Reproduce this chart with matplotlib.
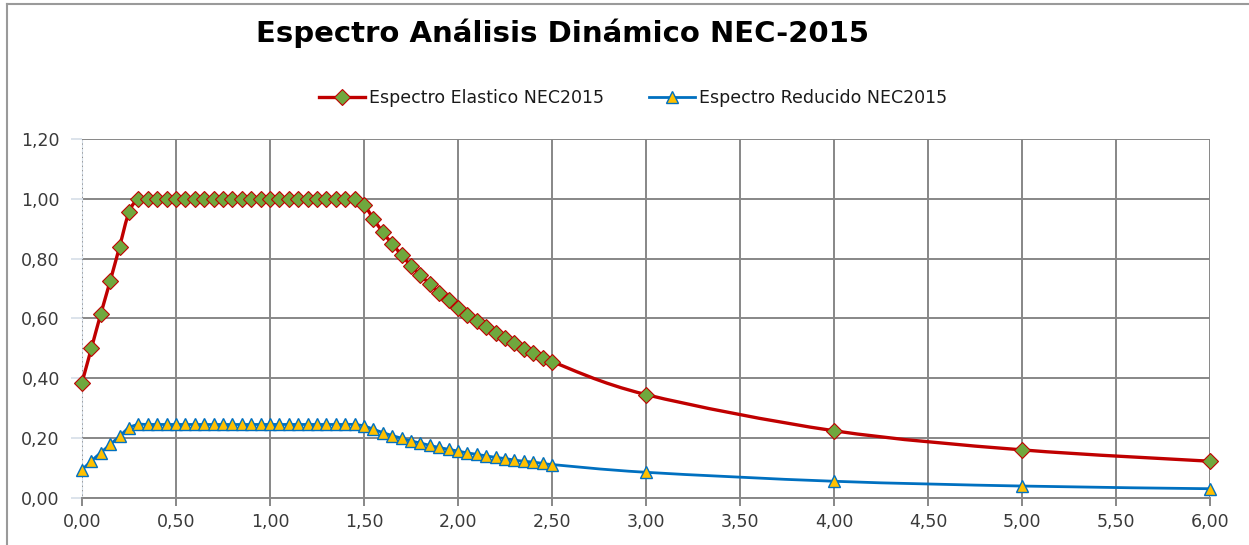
import matplotlib.pyplot as plt
from matplotlib.path import Path
from matplotlib.patches import PathPatch
from matplotlib.lines import Line2D
from matplotlib.ticker import FuncFormatter, MultipleLocator

# periodo T (s)
periodo = [0.00, 0.05, 0.10, 0.15, 0.20, 0.25, 0.30, 0.35, 0.40, 0.45,
           0.50, 0.55, 0.60, 0.65, 0.70, 0.75, 0.80, 0.85, 0.90, 0.95,
           1.00, 1.05, 1.10, 1.15, 1.20, 1.25, 1.30, 1.35, 1.40, 1.45,
           1.50, 1.55, 1.60, 1.65, 1.70, 1.75, 1.80, 1.85, 1.90, 1.95,
           2.00, 2.05, 2.10, 2.15, 2.20, 2.25, 2.30, 2.35, 2.40, 2.45,
           2.50, 3.00, 4.00, 5.00, 6.00]

sa_elastico = [0.385, 0.500, 0.615, 0.725, 0.840, 0.955, 1.000, 1.000, 1.000, 1.000,
               1.000, 1.000, 1.000, 1.000, 1.000, 1.000, 1.000, 1.000, 1.000, 1.000,
               1.000, 1.000, 1.000, 1.000, 1.000, 1.000, 1.000, 1.000, 1.000, 1.000,
               0.980, 0.933, 0.888, 0.849, 0.812, 0.776, 0.745, 0.715, 0.686, 0.661,
               0.635, 0.612, 0.590, 0.570, 0.550, 0.533, 0.516, 0.499, 0.484, 0.469,
               0.455, 0.345, 0.224, 0.160, 0.122]

sa_reducido = [0.094, 0.123, 0.151, 0.178, 0.206, 0.234, 0.245, 0.245, 0.245, 0.245,
               0.245, 0.245, 0.245, 0.245, 0.245, 0.245, 0.245, 0.245, 0.245, 0.245,
               0.245, 0.245, 0.245, 0.245, 0.245, 0.245, 0.245, 0.245, 0.245, 0.245,
               0.240, 0.229, 0.218, 0.208, 0.199, 0.190, 0.183, 0.175, 0.168, 0.162,
               0.156, 0.150, 0.145, 0.140, 0.135, 0.131, 0.126, 0.122, 0.119, 0.115,
               0.111, 0.085, 0.055, 0.039, 0.030]

titulo = 'Espectro Análisis Dinámico NEC-2015'
nombres = ['Espectro Elastico NEC2015', 'Espectro Reducido NEC2015']

ROJO = '#C00000'
VERDE = '#6FA83E'
AZUL = '#0070C0'
AMARILLO = '#FFC000'
GRIS = '#878787'


def curva_suave(x, y):
    # suavizado tipo Excel (bezier a partir de los puntos)
    verts = [(x[0], y[0])]
    codes = [Path.MOVETO]
    n = len(x)
    for i in range(n - 1):
        x0, y0 = (x[i - 1], y[i - 1]) if i > 0 else (x[i], y[i])
        x3, y3 = (x[i + 2], y[i + 2]) if i + 2 < n else (x[i + 1], y[i + 1])
        c1 = (x[i] + (x[i + 1] - x0) / 6, y[i] + (y[i + 1] - y0) / 6)
        c2 = (x[i + 1] - (x3 - x[i]) / 6, y[i + 1] - (y3 - y[i]) / 6)
        verts += [c1, c2, (x[i + 1], y[i + 1])]
        codes += [Path.CURVE4] * 3
    return Path(verts, codes)


fig = plt.figure(figsize=(12.49, 5.45), dpi=100)
ax = fig.add_axes([82 / 1249, 47.3 / 545, (1210 - 82) / 1249, (497.7 - 139) / 545])

ax.set_xlim(0, 6)
ax.set_ylim(0, 1.2)
ax.xaxis.set_major_locator(MultipleLocator(0.5))
ax.yaxis.set_major_locator(MultipleLocator(0.2))
fmt = FuncFormatter(lambda v, p: f'{v:.2f}'.replace('.', ','))
ax.xaxis.set_major_formatter(fmt)
ax.yaxis.set_major_formatter(fmt)
ax.grid(True, color=GRIS, linewidth=1.4)
ax.set_axisbelow(True)

for s in ['top', 'right']:
    ax.spines[s].set_visible(False)
ax.spines['bottom'].set_color(GRIS)
ax.spines['bottom'].set_linewidth(1.4)
ax.spines['left'].set_color('#D5DEE8')
ax.spines['left'].set_linestyle((0, (2, 2)))

ax.tick_params(axis='x', colors=GRIS, length=6, width=1.4, labelcolor='#3a3a3a',
               labelsize=12.5, pad=5)
ax.tick_params(axis='y', colors='#D5DEE8', length=8, width=1.2, labelcolor='#3a3a3a',
               labelsize=12.5, pad=8)

ax.add_patch(PathPatch(curva_suave(periodo, sa_elastico), fill=False,
                       edgecolor=ROJO, linewidth=2.4, zorder=3))
ax.add_patch(PathPatch(curva_suave(periodo, sa_reducido), fill=False,
                       edgecolor=AZUL, linewidth=2.0, zorder=3))
ax.plot(periodo, sa_elastico, linestyle='none', marker='D', markersize=7.8,
        markerfacecolor=VERDE, markeredgecolor=ROJO, markeredgewidth=0.8,
        clip_on=False, zorder=4)
ax.plot(periodo, sa_reducido, linestyle='none', marker='^', markersize=9,
        markerfacecolor=AMARILLO, markeredgecolor=AZUL, markeredgewidth=1.0,
        clip_on=False, zorder=4)

fig.text(563 / 1249, 1 - 33 / 545, titulo, ha='center', va='center',
         fontsize=21, fontweight='bold', family=['DejaVu Sans'])

handles = [
    Line2D([], [], color=ROJO, linewidth=2.4, marker='D', markersize=7.8,
           markerfacecolor=VERDE, markeredgecolor=ROJO, markeredgewidth=0.8),
    Line2D([], [], color=AZUL, linewidth=2.0, marker='^', markersize=9,
           markerfacecolor=AMARILLO, markeredgecolor=AZUL, markeredgewidth=1.0),
]
fig.legend(handles, nombres, loc='center', bbox_to_anchor=(633 / 1249, 1 - 98 / 545),
           ncol=2, frameon=False, fontsize=12.5, handlelength=2.65, handletextpad=0.25,
           columnspacing=2.6, labelcolor='#1a1a1a', borderpad=0, borderaxespad=0)

# borde del area del grafico
fig.add_artist(Line2D([7 / 1249, 7 / 1249], [0, 1 - 4 / 545], transform=fig.transFigure,
                      color='#9a9a9a', linewidth=1.5))
fig.add_artist(Line2D([7 / 1249, 1], [1 - 4 / 545, 1 - 4 / 545], transform=fig.transFigure,
                      color='#9a9a9a', linewidth=1.5))

fig.savefig('out.png', dpi=100)
